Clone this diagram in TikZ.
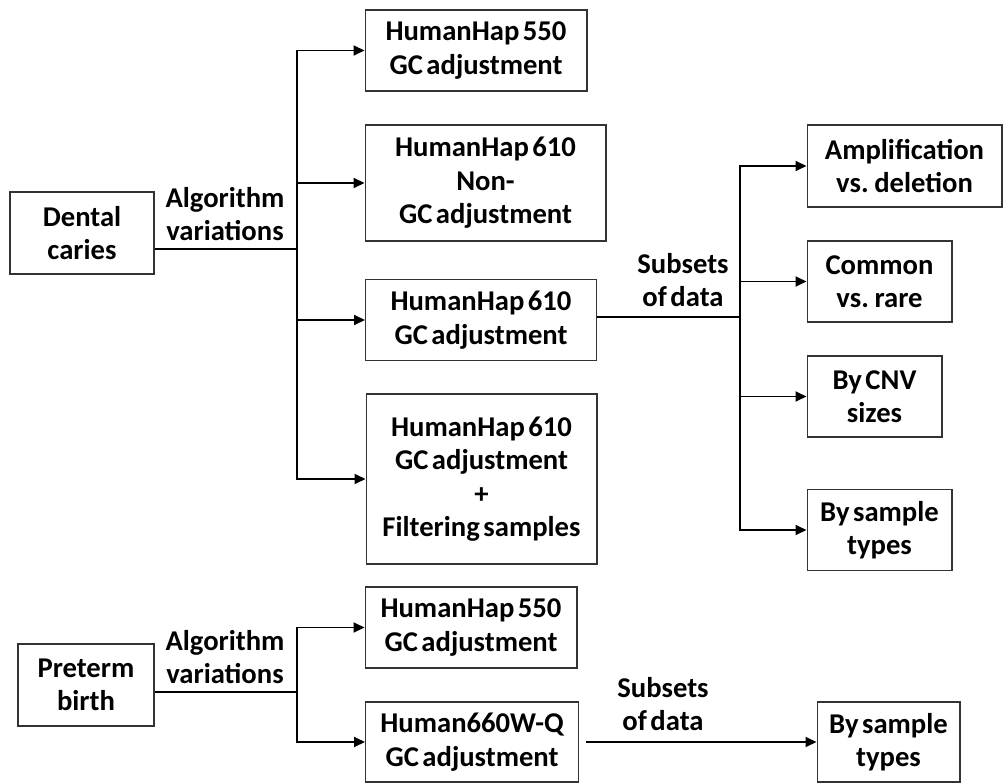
\documentclass[tikz,border=0pt]{standalone}
\usepackage{fontspec}
\setmainfont{Carlito}[WordSpace=0.55]
\usetikzlibrary{arrows.meta}

\begin{document}
\begin{tikzpicture}
[x=0.02cm,y=-0.02cm,
box/.style={rectangle,draw=black!80,line width=0.6pt,align=center,inner sep=0pt,font=\fontsize{16.3}{19}\selectfont\bfseries},
lbl/.style={align=center,inner sep=0pt,font=\fontsize{16.3}{19}\selectfont\bfseries},
link/.style={line width=1.1pt},
arr/.style={line width=1.1pt,-{Triangle[length=2.2mm,width=2mm]}}
]
\useasboundingbox (0,0) rectangle (1003,783);

% upper tree
\node[box,minimum width=2.88cm,minimum height=1.64cm] (dc) at (82,233){Dental\\caries};
\node[box,minimum width=4.44cm,minimum height=1.62cm] (hh550) at (476,50.5){HumanHap 550\\GC adjustment};
\node[box,minimum width=4.82cm,minimum height=2.32cm] (hh610n) at (485.5,183){HumanHap 610\\Non-\\GC adjustment};
\node[box,minimum width=4.62cm,minimum height=1.62cm] (hh610) at (481,320){HumanHap 610\\GC adjustment};
\node[box,minimum width=4.62cm,minimum height=3.4cm] (hh610f) at (481.5,479){HumanHap 610\\GC adjustment\\+\\Filtering samples};

\node[box,minimum width=3.9cm,minimum height=1.64cm] (amp) at (904.5,166){Amplification\\vs. deletion};
\node[box,minimum width=2.9cm,minimum height=1.62cm] (com) at (879.5,281.5){Common\\vs. rare};
\node[box,minimum width=2.7cm,minimum height=1.62cm] (cnv) at (874.5,396.5){By CNV\\sizes};
\node[box,minimum width=2.9cm,minimum height=1.62cm] (samp) at (879.5,530){By sample\\types};

\node[lbl] (alg1) at (225,214){Algorithm\\variations};
\node[lbl] (sub1) at (683,280){Subsets\\of data};

\coordinate (j1) at (297,249);
\coordinate (j2) at (740,317);
\draw[link] (dc.east |- j1) -- (j1);
\foreach \n in {hh550,hh610n,hh610,hh610f}
  \draw[arr] (j1) |- (\n.west);
\draw[link] (hh610.east |- j2) -- (j2);
\foreach \n in {amp,com,cnv,samp}
  \draw[arr] (j2) |- (\n.west);

% lower tree
\node[box,minimum width=2.72cm,minimum height=1.64cm] (pb) at (86,685){Preterm\\birth};
\node[box,minimum width=4.24cm,minimum height=1.62cm] (hh550b) at (471,627.5){HumanHap 550\\GC adjustment};
\node[box,minimum width=4.26cm,minimum height=1.6cm] (h660) at (472,742){Human660W-Q\\GC adjustment};
\node[box,minimum width=2.86cm,minimum height=1.6cm] (sampb) at (888.5,742){By sample\\types};

\node[lbl] (alg2) at (225,657){Algorithm\\variations};
\node[lbl] (sub2) at (663,704){Subsets\\of data};

\coordinate (j3) at (297,692);
\draw[link] (pb.east |- j3) -- (j3);
\foreach \n in {hh550b,h660}
  \draw[arr] (j3) |- (\n.west);
\draw[arr] ([xshift=0.14cm]h660.east) -- (sampb.west);
\end{tikzpicture}
\end{document}
